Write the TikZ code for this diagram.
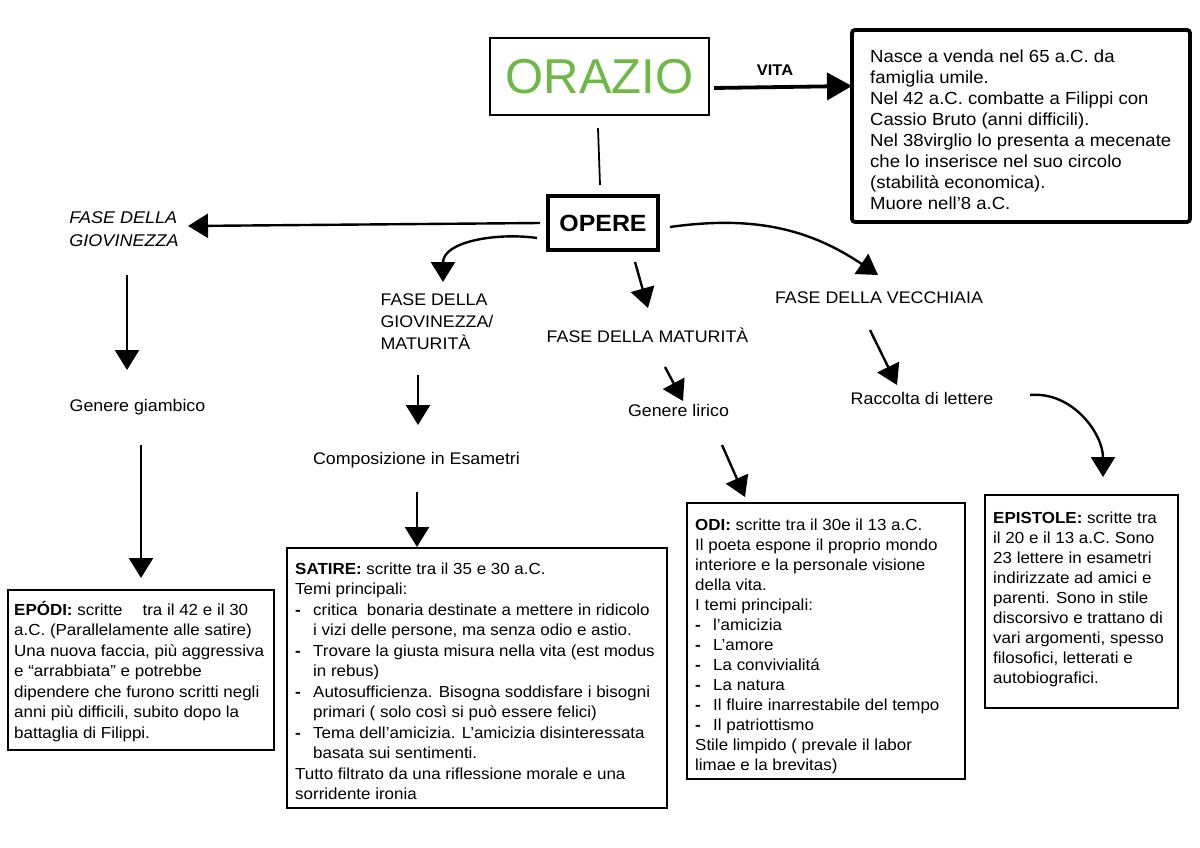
\documentclass[tikz,border=0pt]{standalone}
\usepackage{fontspec}
\setmainfont{Liberation Sans}[FakeStretch=1.06]
\newfontfamily\orfont{Liberation Sans}
\usetikzlibrary{arrows.meta}
\definecolor{orgreen}{RGB}{110,185,70}
\newcommand{\myitem}{\makebox[18pt][l]{\textbf{-}}}
\newcommand{\myindent}{\hspace*{18pt}}
\begin{document}
\begin{tikzpicture}[x=1pt,y=1pt,
  arr/.style={line width=2.4pt,-{Triangle[length=20pt,width=24pt]}},
  bigarr/.style={line width=3.8pt,-{Triangle[length=25pt,width=27pt]}},
  lbl/.style={font=\fontsize{16.8}{22}\selectfont,inner sep=0pt},
  body/.style={font=\fontsize{16}{20.5}\selectfont,align=left,inner sep=0pt,anchor=north west},
  box/.style={draw,line width=2.2pt,inner sep=0pt},
]
\useasboundingbox (0,0) rectangle (1200,-848);

% title and life
\node[draw,line width=1.5pt,minimum width=219pt,minimum height=77pt,inner sep=0pt,
      font=\orfont\fontsize{49}{49}\selectfont,text=orgreen] (orazio) at (599.5,-76.5) {ORAZIO};
\node[font=\bfseries\fontsize{15.5}{16}\selectfont,inner sep=0pt] (vitalbl) at (775,-70) {VITA};
\node[draw,line width=3.8pt,rounded corners=3pt,minimum width=338pt,minimum height=192pt,inner sep=0pt] (vitabox) at (1021,-126) {};
\node[body,font=\fontsize{17.5}{21}\selectfont] (vitatxt) at (870,-46) {\rule{0pt}{16pt}Nasce a venda nel 65 a.C. da\\
famiglia umile.\\
Nel 42 a.C. combatte a Filippi con\\
Cassio Bruto (anni difficili).\\
Nel 38virglio lo presenta a mecenate\\
che lo inserisce nel suo circolo\\
(stabilità economica).\\
Muore nell’8 a.C.};

\node[draw,line width=3.4pt,minimum width=110pt,minimum height=54pt,inner sep=0pt,
      font=\bfseries\fontsize{23.5}{24}\selectfont] (opere) at (603,-223) {OPERE};

% phases
\node[lbl,align=left,font=\itshape\fontsize{17}{23}\selectfont] (giov) at (124,-229.5) {FASE DELLA\\GIOVINEZZA};
\node[lbl,align=left] (giovmat) at (437,-322) {FASE DELLA\\GIOVINEZZA/\\MATURITÀ};
\node[lbl] (matur) at (647.5,-335) {FASE DELLA MATURITÀ};
\node[lbl] (vecch) at (879,-298) {FASE DELLA VECCHIAIA};

\node[lbl] (giamb) at (137.5,-407) {Genere giambico};
\node[lbl] (compos) at (416.5,-460) {Composizione in Esametri};
\node[lbl] (lirico) at (678.5,-410) {Genere lirico};
\node[lbl] (racc) at (922,-398) {Raccolta di lettere};

% boxes
\node[box,minimum width=266pt,minimum height=160pt] (epodibox) at (141,-670) {};
\node[body] (epoditxt) at (14,-599) {\rule{0pt}{16pt}\textbf{EPÓDI:} scritte\hspace{20pt}tra il 42 e il 30\\
a.C. (Parallelamente alle satire)\\
Una nuova faccia, più aggressiva\\
e “arrabbiata” e potrebbe\\
dipendere che furono scritti negli\\
anni più difficili, subito dopo la\\
battaglia di Filippi.};

\node[box,minimum width=380pt,minimum height=260pt] (satirebox) at (477,-678) {};
\node[body] (satiretxt) at (295,-558) {\rule{0pt}{16pt}\textbf{SATIRE:} scritte tra il 35 e 30 a.C.\\
Temi principali:\\
\myitem critica\ \ bonaria destinate a mettere in ridicolo\\
\myindent i vizi delle persone, ma senza odio e astio.\\
\myitem Trovare la giusta misura nella vita (est modus\\
\myindent in rebus)\\
\myitem Autosufficienza. Bisogna soddisfare i bisogni\\
\myindent primari ( solo così si può essere felici)\\
\myitem Tema dell’amicizia. L’amicizia disinteressata\\
\myindent basata sui sentimenti.\\
Tutto filtrato da una riflessione morale e una\\
sorridente ironia};

\node[box,minimum width=278pt,minimum height=276pt] (odibox) at (826,-641) {};
\node[body,font=\fontsize{16}{20}\selectfont] (oditxt) at (695,-514) {\rule{0pt}{16pt}\textbf{ODI:} scritte tra il 30e il 13 a.C.\\
Il poeta espone il proprio mondo\\
interiore e la personale visione\\
della vita.\\
I temi principali:\\
\myitem l’amicizia\\
\myitem L’amore\\
\myitem La convivialitá\\
\myitem La natura\\
\myitem Il fluire inarrestabile del tempo\\
\myitem Il patriottismo\\
Stile limpido ( prevale il labor\\
limae e la brevitas)};

\node[box,minimum width=193pt,minimum height=213pt] (epistbox) at (1081.5,-601.5) {};
\node[body,font=\fontsize{16}{20}\selectfont] (episttxt) at (993,-507) {\rule{0pt}{16pt}\textbf{EPISTOLE:} scritte tra\\
il 20 e il 13 a.C. Sono\\
23 lettere in esametri\\
indirizzate ad amici e\\
parenti. Sono in stile\\
discorsivo e trattano di\\
vari argomenti, spesso\\
filosofici, letterati e\\
autobiografici.};

% connectors
\draw[line width=1.8pt] ([shift={(-1.5pt,-51.5pt)}]orazio.center) -- ([shift={(-3pt,38pt)}]opere.center);
\draw[bigarr] ([shift={(114.5pt,-11.5pt)}]orazio.center) -- ([shift={(-169pt,40pt)}]vitabox.center);

\draw[arr] ([shift={(-63pt,0pt)}]opere.center) -- ([shift={(64pt,3.5pt)}]giov.center);
\draw[arr] ([shift={(-66pt,-15pt)}]opere.center) to[out=172,in=90] ([shift={(6pt,40pt)}]giovmat.center);
\draw[arr] ([shift={(32pt,-39pt)}]opere.center) -- ([shift={(0.5pt,27pt)}]matur.center);
\draw[arr] ([shift={(67pt,-4pt)}]opere.center) to[out=8,in=146] ([shift={(-1pt,23pt)}]vecch.center);

\draw[arr] ([shift={(3pt,-45.5pt)}]giov.center) -- ([shift={(-10.5pt,37pt)}]giamb.center);
\draw[arr] ([shift={(-19pt,-53pt)}]giovmat.center) -- ([shift={(1.5pt,35pt)}]compos.center);
\draw[arr] ([shift={(17.5pt,-32pt)}]matur.center) -- ([shift={(4.5pt,9pt)}]lirico.center);
\draw[arr] ([shift={(-9pt,-32pt)}]vecch.center) -- ([shift={(-25pt,13pt)}]racc.center);

\draw[arr] ([shift={(3.5pt,-38pt)}]giamb.center) -- ([shift={(0pt,92pt)}]epodibox.center);
\draw[arr] ([shift={(0.5pt,-32pt)}]compos.center) -- ([shift={(-60pt,131pt)}]satirebox.center);
\draw[arr] ([shift={(43.5pt,-35pt)}]lirico.center) -- ([shift={(-81pt,144pt)}]odibox.center);
\draw[arr] ([shift={(108pt,3pt)}]racc.center) to[out=5,in=90] ([shift={(21.5pt,124.5pt)}]epistbox.center);
\end{tikzpicture}
\end{document}
